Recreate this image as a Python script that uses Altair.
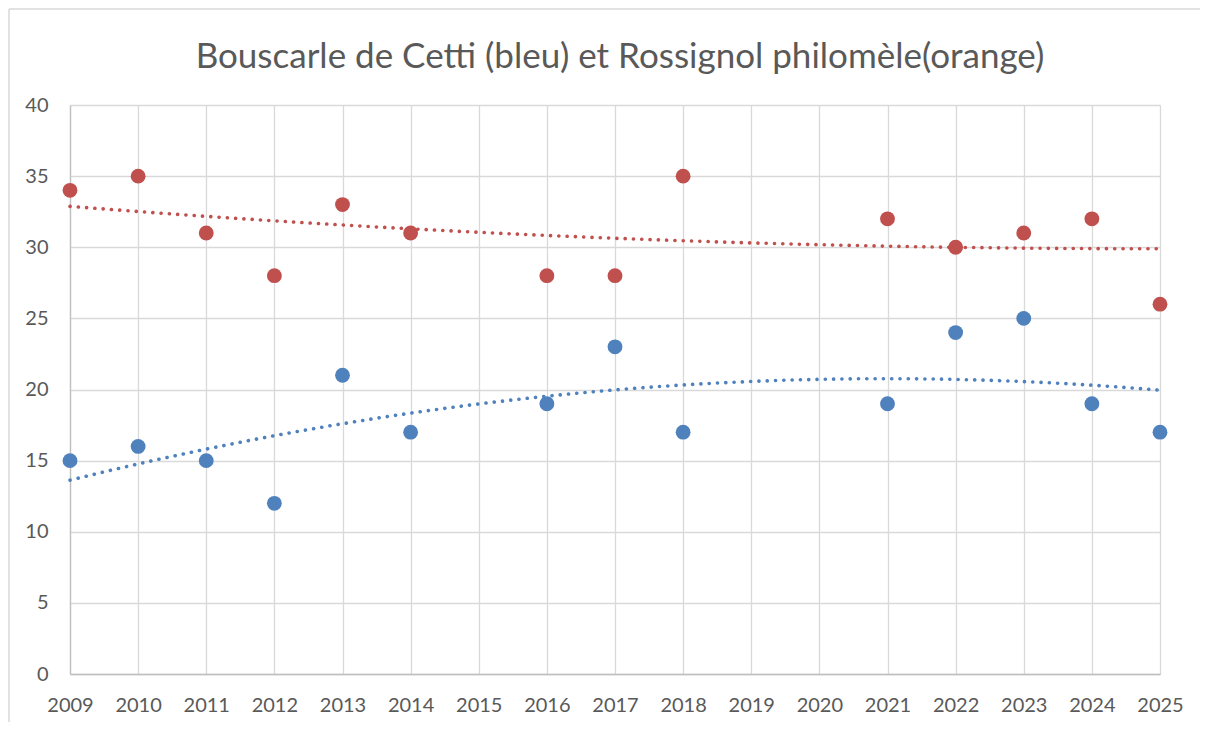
import altair as alt
import pandas as pd

blue_years = [2009, 2010, 2011, 2012, 2013, 2014, 2016, 2017, 2018, 2021, 2022, 2023, 2024, 2025]
blue_values = [15, 16, 15, 12, 21, 17, 19, 23, 17, 19, 24, 25, 19, 17]
red_years = [2009, 2010, 2011, 2012, 2013, 2014, 2016, 2017, 2018, 2021, 2022, 2023, 2024, 2025]
red_values = [34, 35, 31, 28, 33, 31, 28, 28, 35, 32, 30, 31, 32, 26]
series_names = ["Bouscarle de Cetti", "Rossignol philomèle"]
series_colors = ["#4F81BD", "#C0504D"]
title_text = "Bouscarle de Cetti (bleu) et Rossignol philomèle(orange)"
x_ticks = list(range(2009, 2026))
y_ticks = [0, 5, 10, 15, 20, 25, 30, 35, 40]

df = pd.concat([
    pd.DataFrame({"year": blue_years, "value": blue_values, "series": series_names[0]}),
    pd.DataFrame({"year": red_years, "value": red_values, "series": series_names[1]}),
])

FONT = "Lato"
GRAY = "#595959"

x_enc = alt.X("year:Q", scale=alt.Scale(domain=[2009, 2025], nice=False, zero=False),
              axis=alt.Axis(values=x_ticks, format="d", title=None, grid=True,
                            gridColor="#D9D9D9", gridWidth=1.3, domainColor="#BFBFBF",
                            domainWidth=1.3, ticks=False, labelPadding=21,
                            labelFontSize=20, labelColor=GRAY, labelFont=FONT,
                            labelOverlap=False, labelFlush=False, labelBound=False))
y_enc = alt.Y("value:Q", scale=alt.Scale(domain=[0, 40], nice=False),
              axis=alt.Axis(values=y_ticks, title=None, grid=True, gridColor="#D9D9D9",
                            gridWidth=1.3, domainColor="#BFBFBF", domainWidth=1.3,
                            ticks=False, labelPadding=22, labelFontSize=20,
                            labelColor=GRAY, labelFont=FONT))
color_enc = alt.Color("series:N", scale=alt.Scale(domain=series_names, range=series_colors),
                      legend=None)

base = alt.Chart(df)

points = base.mark_circle(size=220, opacity=1).encode(x=x_enc, y=y_enc, color=color_enc)

trend = base.transform_regression(
    "year", "value", groupby=["series"], method="poly", order=2, extent=[2009, 2025]
).mark_line(strokeWidth=3.6, strokeDash=[0.1, 8.2], strokeCap="round").encode(
    x=alt.X("year:Q"), y=alt.Y("value:Q"), color=color_enc
)

border_left = alt.Chart(pd.DataFrame({"k": [0]})).mark_rule(color="#D9D9D9", strokeWidth=1.5).encode(
    x=alt.value(-61), y=alt.value(-96), y2=alt.value(640))
border_top = alt.Chart(pd.DataFrame({"k": [0]})).mark_rule(color="#D9D9D9", strokeWidth=1.5).encode(
    x=alt.value(-61), x2=alt.value(1140), y=alt.value(-96))

chart = alt.layer(border_left, border_top, points, trend).properties(
    width=1090, height=569,
    title=alt.TitleParams(title_text, fontSize=35, font=FONT, color=GRAY,
                          fontWeight="normal", anchor="middle", offset=0, dy=67, dx=5),
    padding={"left": 62, "top": 97, "right": 40, "bottom": 48},
    autosize=alt.AutoSizeParams(type="none"),
).configure_view(stroke=None)

chart.save("out.html", embed_options={"renderer": "svg", "actions": False})
